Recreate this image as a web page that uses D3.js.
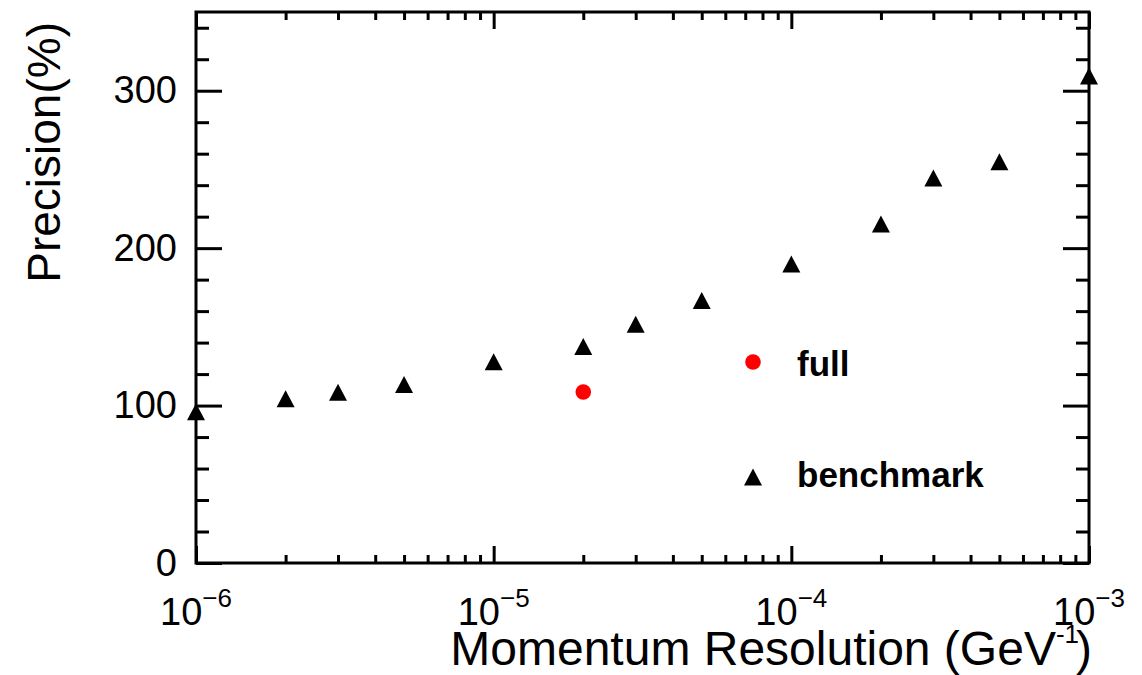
<!DOCTYPE html>
<html>
<head>
<meta charset="utf-8">
<script src="https://cdn.jsdelivr.net/npm/d3@7"></script>
<style>
  html, body { margin: 0; padding: 0; background: #fff; }
  svg { display: block; font-family: "Liberation Sans", Arial, Helvetica, sans-serif; }
</style>
</head>
<body>
<svg id="chart" width="1142" height="675"></svg>
<script>
// ---- data ----
const benchmarkX = [1e-6, 2e-6, 3e-6, 5e-6, 1e-5, 2e-5, 3e-5, 5e-5, 1e-4, 2e-4, 3e-4, 5e-4, 1e-3];
const benchmarkY = [96, 104.4, 108.4, 113.4, 127.8, 137.5, 151.6, 166.7, 189.9, 215.3, 244.6, 254.8, 309.4];
const fullX = [2e-5];
const fullY = [108.6];
const xMajorTicks = [1e-6, 1e-5, 1e-4, 1e-3];
const xTickExponents = ["\u22126", "\u22125", "\u22124", "\u22123"];
const yMajorTicks = [0, 100, 200, 300];
const yTickLabels = ["0", "100", "200", "300"];
const seriesNames = ["full", "benchmark"];

(function () {
// ---- layout ----
const pL = 196, pR = 1089, pT = 12, pB = 563;
const svg = d3.select("#chart");

const x = d3.scaleLog().domain([1e-6, 1e-3]).range([pL, pR]);
const y = d3.scaleLinear().domain([0, 350]).range([pB, pT]);

// minor ticks
const xMinor = [];
for (let e = -6; e < -3; e++) for (let m = 2; m <= 9; m++) xMinor.push(m * Math.pow(10, e));
const yMinor = d3.range(0, 351, 20).filter(v => v % 100 !== 0);

const tickStroke = 3;
function styleAxis(g) {
  g.select(".domain").remove();
  g.selectAll(".tick line").attr("stroke", "#000").attr("stroke-width", tickStroke);
}

// x axes (bottom & top), ticks inward
svg.append("g").attr("transform", `translate(0,${pB})`)
  .call(d3.axisBottom(x).tickValues(xMinor).tickSize(-8).tickFormat("")).call(styleAxis);
svg.append("g").attr("transform", `translate(0,${pB})`)
  .call(d3.axisBottom(x).tickValues(xMajorTicks).tickSize(-17).tickFormat("")).call(styleAxis);
svg.append("g").attr("transform", `translate(0,${pT})`)
  .call(d3.axisTop(x).tickValues(xMinor).tickSize(-8).tickFormat("")).call(styleAxis);
svg.append("g").attr("transform", `translate(0,${pT})`)
  .call(d3.axisTop(x).tickValues(xMajorTicks).tickSize(-17).tickFormat("")).call(styleAxis);

// y axes (left & right)
svg.append("g").attr("transform", `translate(${pL},0)`)
  .call(d3.axisLeft(y).tickValues(yMinor).tickSize(-13).tickFormat("")).call(styleAxis);
const yLeft = svg.append("g").attr("transform", `translate(${pL},0)`)
  .call(d3.axisLeft(y).tickValues(yMajorTicks).tickSize(-26).tickPadding(19)
    .tickFormat((d, i) => yTickLabels[i]));
yLeft.call(styleAxis);
yLeft.selectAll(".tick text").attr("font-size", 38).attr("fill", "#000")
  .attr("font-family", "'Liberation Sans', Arial, sans-serif");
svg.append("g").attr("transform", `translate(${pR},0)`)
  .call(d3.axisRight(y).tickValues(yMinor).tickSize(-13).tickFormat("")).call(styleAxis);
svg.append("g").attr("transform", `translate(${pR},0)`)
  .call(d3.axisRight(y).tickValues(yMajorTicks).tickSize(-26).tickFormat("")).call(styleAxis);

// frame
svg.append("rect").attr("x", pL).attr("y", pT)
  .attr("width", pR - pL).attr("height", pB - pT)
  .attr("fill", "none").attr("stroke", "#000").attr("stroke-width", 3);

// x tick labels 10^n
const xl = svg.append("g").attr("font-size", 38).attr("fill", "#000");
xMajorTicks.forEach((v, i) => {
  const t = xl.append("text").attr("x", x(v)).attr("y", 625).attr("text-anchor", "middle");
  t.append("tspan").text("10");
  t.append("tspan").attr("font-size", 26).attr("dy", -18).text(xTickExponents[i]);
});

// axis titles
const xt = svg.append("text").attr("x", 1092).attr("y", 665).attr("text-anchor", "end")
  .attr("font-size", 48).attr("fill", "#000");
xt.append("tspan").text("Momentum Resolution (GeV");
xt.append("tspan").attr("font-size", 26).attr("dy", -22).text("-1");
xt.append("tspan").attr("dy", 22).attr("dx", -3).text(")");

svg.append("text").attr("transform", "translate(60,22) rotate(-90)")
  .attr("text-anchor", "end").attr("font-size", 46).attr("fill", "#000")
  .text("Precision(%)");

// markers
const tri = "M-9,8.5L9,8.5L0,-8.5Z";
svg.append("g").selectAll("path").data(benchmarkX.map((d, i) => [d, benchmarkY[i]]))
  .join("path")
  .attr("d", tri)
  .attr("transform", d => `translate(${x(d[0])},${y(d[1])})`)
  .attr("fill", "#000");

svg.append("g").selectAll("circle").data(fullX.map((d, i) => [d, fullY[i]]))
  .join("circle")
  .attr("cx", d => x(d[0])).attr("cy", d => y(d[1])).attr("r", 7.8)
  .attr("fill", "#ff0000");

// legend
const lg = svg.append("g");
lg.append("circle").attr("cx", 753).attr("cy", 362).attr("r", 7.8).attr("fill", "#ff0000");
lg.append("text").attr("x", 797).attr("y", 375.5).attr("font-size", 35).attr("font-weight", "bold")
  .attr("fill", "#000").text(seriesNames[0]);
lg.append("path").attr("d", tri).attr("transform", "translate(753,477)").attr("fill", "#000");
lg.append("text").attr("x", 797).attr("y", 487).attr("font-size", 35).attr("font-weight", "bold")
  .attr("fill", "#000").text(seriesNames[1]);
})();
</script>
</body>
</html>
